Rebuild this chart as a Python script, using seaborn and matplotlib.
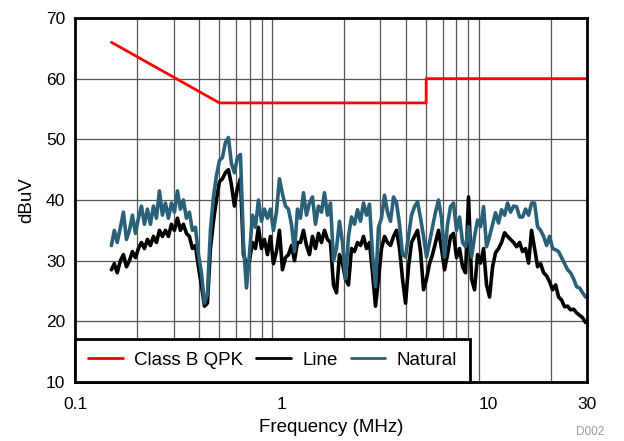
import numpy as np
import pandas as pd
import seaborn as sns
import matplotlib.pyplot as plt
from matplotlib.ticker import FixedLocator, NullFormatter

# Class B QPK limit (MHz, dBuV)
limit_freq = [0.15, 0.5, 5.0, 5.0, 30.0]
limit_level = [66, 56, 56, 60, 60]

# measured spectra (MHz)
freq = [0.150, 0.155, 0.160, 0.1659, 0.1715, 0.1774, 0.1834, 0.1896, 0.1961, 0.2027,
        0.2096, 0.2167, 0.2241, 0.2317, 0.2396, 0.2477, 0.2561, 0.2648, 0.2738, 0.2831,
        0.2927, 0.3027, 0.3130, 0.3236, 0.3346, 0.3460, 0.3577, 0.3699, 0.3825, 0.3955,
        0.4089, 0.4229, 0.4372, 0.4521, 0.4675, 0.4834, 0.4998, 0.5168, 0.5344, 0.5525,
        0.5713, 0.5907, 0.6108, 0.6316, 0.6531, 0.6753, 0.6982, 0.7220, 0.7465, 0.7719,
        0.7981, 0.8253, 0.8533, 0.8823, 0.9123, 0.9433, 0.9754, 1.0086, 1.0429, 1.0783,
        1.1150, 1.1529, 1.1921, 1.2326, 1.2745, 1.3179, 1.3627, 1.4090, 1.4569, 1.5065,
        1.5577, 1.6107, 1.6654, 1.7220, 1.7806, 1.8411, 1.9037, 1.9684, 2.0354, 2.1046,
        2.1761, 2.250, 2.327, 2.406, 2.488, 2.572, 2.660, 2.750, 2.844, 2.940,
        3.040, 3.144, 3.251, 3.361, 3.476, 3.594, 3.716, 3.842, 3.973, 4.108,
        4.248, 4.392, 4.542, 4.696, 4.856, 5.021, 5.191, 5.368, 5.550, 5.739,
        5.934, 6.136, 6.344, 6.560, 6.783, 7.013, 7.252, 7.498, 7.753, 8.017,
        8.290, 8.571, 8.863, 9.164, 9.476, 9.798, 10.13, 10.48, 10.83, 11.20,
        11.58, 11.98, 12.38, 12.80, 13.24, 13.69, 14.15, 14.64, 15.13, 15.65,
        16.18, 16.73, 17.30, 17.89, 18.50, 19.13, 19.78, 20.45, 21.15, 21.87,
        22.61, 23.38, 24.17, 24.99, 25.84, 26.72, 27.63, 28.57, 29.54]

natural = [32.5, 35, 33, 35.5, 38, 33.5, 35, 37.5, 34.5, 37,
           39, 36, 38.5, 36, 39, 37, 41.5, 37.5, 39.5, 37,
           39.5, 38, 41.5, 38.5, 40, 37, 38, 35, 35.5, 31,
           28, 23, 24.5, 35, 40.5, 44, 46.5, 47, 49.5, 50.3,
           46, 44.5, 47, 47.5, 33, 25.5, 31, 37.5, 35.5, 40,
           36.5, 38.5, 37, 38.5, 35, 38, 43.5, 41, 39, 38.5,
           36, 31.5, 38.5, 37, 41.2, 37.5, 39.5, 40.5, 36, 39,
           38, 41.2, 37.5, 39.5, 30, 32, 36.5, 33, 27, 34,
           37.2, 36, 38.4, 36.5, 39.5, 37.5, 39.3, 31, 25.7, 35.5,
           37, 40.8, 38, 36.5, 40.5, 39.5, 36, 31, 30.6, 34,
           37.5, 38.9, 39.7, 37, 34, 30.6, 33, 35.6, 38, 40,
           37, 30.6, 36, 38.9, 39.5, 35, 37.2, 33, 32.3, 35.6,
           30.6, 34, 36.7, 35.6, 38.9, 32.3, 34, 36, 37.9, 36.2,
           38.4, 37.5, 39.5, 38, 39, 38.9, 37.2, 37.2, 38.5, 37.5,
           39.5, 39.5, 35.6, 35, 34, 32.5, 34, 32, 31.8, 31.5,
           30.5, 29.5, 28.5, 28, 27, 25.7, 25.5, 24.7, 24]

line = [28.5, 29.5, 28, 30, 31, 29, 30, 31.5, 30.5, 32,
        33, 32, 33.5, 32.5, 34, 33, 35, 34, 35, 34,
        36, 35, 37, 35, 36, 34.5, 34, 32, 32.5, 29,
        26, 22.5, 23, 32, 36.5, 40, 43, 43.5, 44.5, 45,
        42.5, 39, 42, 43.5, 31, 29.5, 30, 33, 32, 35.5,
        32, 33.5, 31, 34, 29.5, 31.5, 35, 28.5, 30.5, 31,
        32.5, 30, 33, 33, 35, 32.5, 31, 34, 32, 34.5,
        33, 35, 33.5, 33, 26, 24.7, 31, 29.5, 27, 26,
        32, 31.5, 33, 32.5, 34, 32, 33, 28, 22.5, 27,
        32, 34, 33, 32.5, 34, 35, 32, 27, 23, 29,
        33, 34, 35, 31.5, 25.2, 27, 29.5, 31, 33, 35,
        32, 28.5, 31, 34, 34.5, 30.5, 32, 29, 28, 40.5,
        27, 25.2, 31, 29.6, 32, 26, 24, 29, 31.3, 32,
        33, 34.6, 34, 33.5, 33, 32.3, 33, 31.5, 32, 29.6,
        35, 32, 29, 29.5, 28, 27.5, 26.5, 25.2, 26, 24,
        23.5, 22.4, 22.5, 21.9, 22, 21.4, 21, 20.6, 19.8]

df = pd.DataFrame({"freq": freq, "Natural": natural, "Line": line})
limit = pd.DataFrame({"freq": limit_freq, "level": limit_level})

sns.set_style("white")
plt.rcParams["font.family"] = ["Liberation Sans", "DejaVu Sans"]
plt.rcParams["text.color"] = "black"
plt.rcParams["axes.labelcolor"] = "black"
plt.rcParams["xtick.color"] = "black"
plt.rcParams["ytick.color"] = "black"

fig = plt.figure(figsize=(6.24, 4.41), dpi=100)
ax = fig.add_axes([75 / 624, 59 / 441, 512 / 624, 364 / 441])

sns.lineplot(data=limit, x="freq", y="level", ax=ax, color="#ff0000", lw=2,
             sort=False, estimator=None, label="Class B QPK")
sns.lineplot(data=df, x="freq", y="Line", ax=ax, color="black", lw=2.6,
             sort=False, estimator=None, label="Line")
sns.lineplot(data=df, x="freq", y="Natural", ax=ax, color="#2b6079", lw=2.6,
             sort=False, estimator=None, label="Natural")

ax.set_xscale("log")
ax.set_xlim(0.1, 30)
ax.set_ylim(10, 70)
ax.set_xticks([0.1, 1, 10, 30])
ax.set_xticklabels(["0.1", "1", "10", "30"])
minor = [0.2, 0.3, 0.4, 0.5, 0.6, 0.7, 0.8, 0.9, 1, 2, 3, 4, 5, 6, 7, 8, 9, 10, 20]
ax.xaxis.set_minor_locator(FixedLocator(minor))
ax.xaxis.set_minor_formatter(NullFormatter())
ax.set_yticks([10, 20, 30, 40, 50, 60, 70])

ax.grid(False)
ax.grid(True, which="minor", axis="x", color="#555555", lw=0.9)
ax.grid(True, which="major", axis="y", color="#555555", lw=0.9)
ax.set_axisbelow(True)

ax.tick_params(which="both", length=0, labelsize=12.5)
ax.tick_params(axis="x", pad=11)
ax.tick_params(axis="y", pad=7)
for s in ax.spines.values():
    s.set_color("black")
    s.set_linewidth(2)

ax.set_xlabel("Frequency (MHz)", fontsize=13.5, labelpad=5)
ax.set_ylabel("dBuV", fontsize=13.5, labelpad=8)

leg = ax.legend(loc="lower left", bbox_to_anchor=(0, 0), borderaxespad=0, ncol=3,
                fontsize=13.5, fancybox=False, framealpha=1, edgecolor="black",
                handlelength=1.85, columnspacing=0.7, handletextpad=0.6,
                borderpad=0.7)
leg.get_frame().set_linewidth(2)
for h in leg.get_lines():
    h.set_linewidth(2)

fig.text(604 / 624, 1 - 432 / 441, "D002", ha="right", va="center",
         fontsize=8.5, color="#9a9a9a")

fig.savefig("out.png", dpi=100)
